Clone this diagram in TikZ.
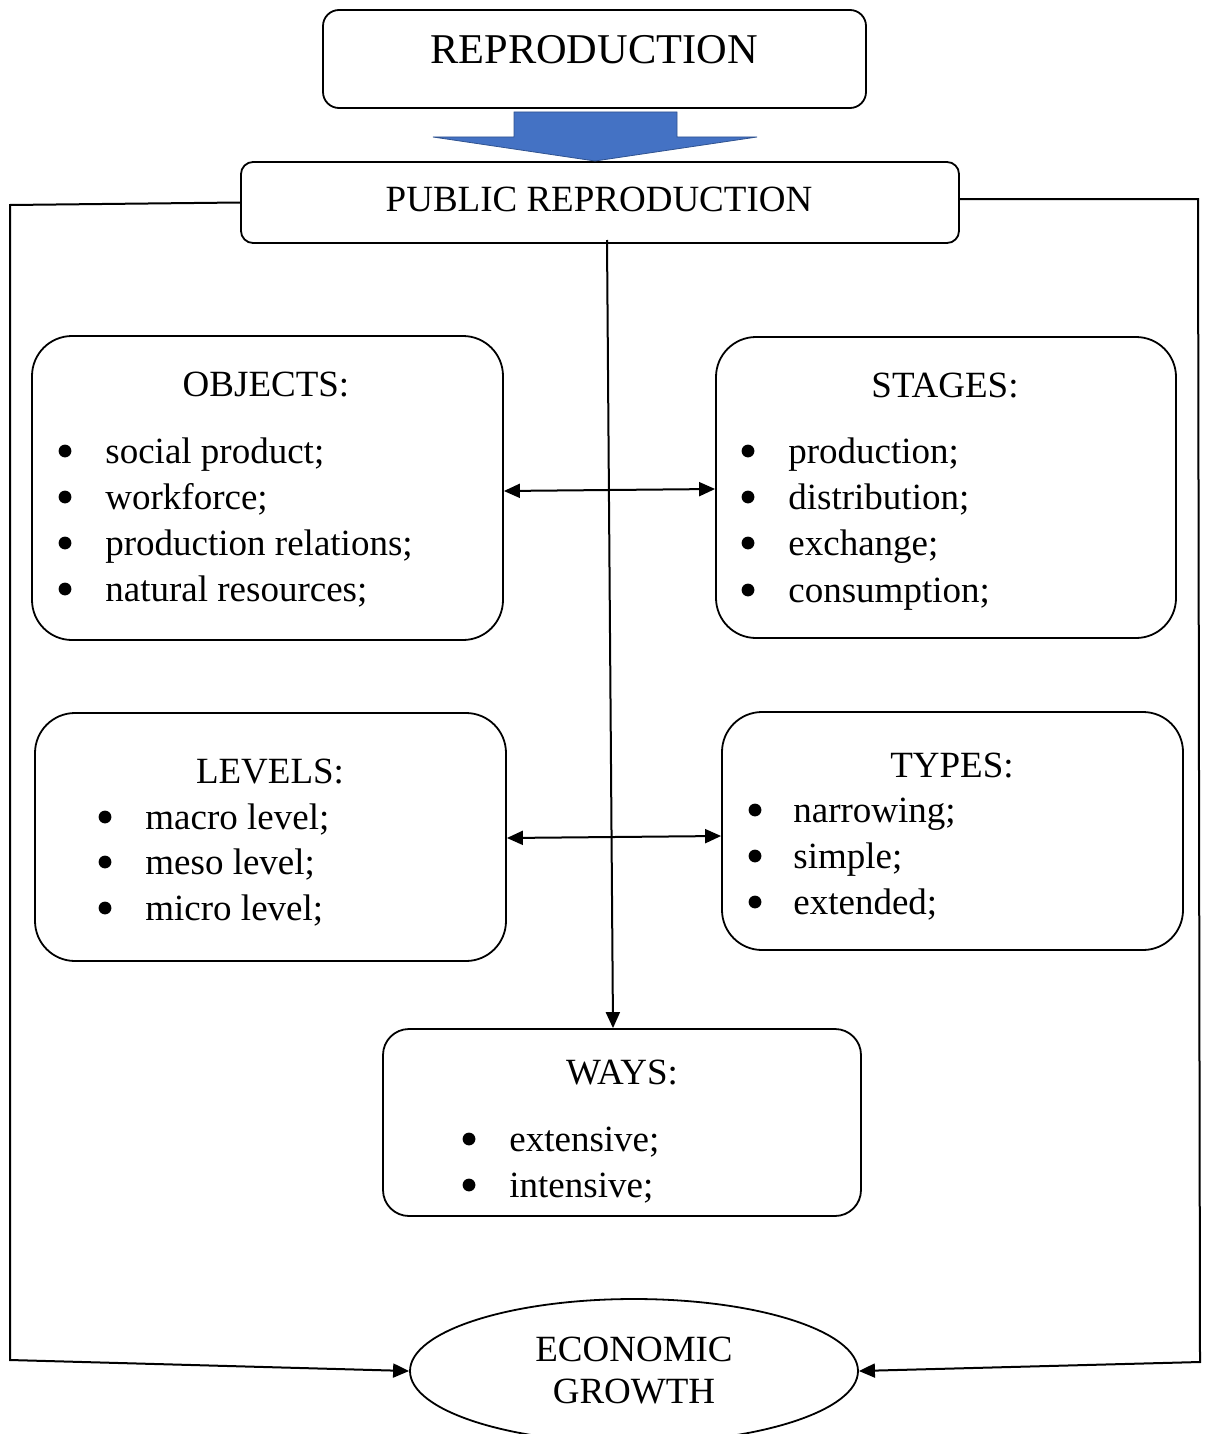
\documentclass[tikz,border=0pt]{standalone}
\usepackage{fontspec}
\setmainfont{Liberation Serif}
\usetikzlibrary{arrows.meta,shapes.geometric,calc}
\definecolor{arrowblue}{HTML}{4472C4}
\definecolor{arrowedge}{HTML}{2F528F}
\tikzset{
  box/.style={draw, line width=0.9pt, inner sep=0pt},
  ttl/.style={font=\fontsize{18.5}{22}\selectfont, inner sep=0pt, anchor=base},
  itm/.style={font=\fontsize{18.5}{22}\selectfont, inner sep=0pt, anchor=base west},
  conn/.style={line width=1pt},
  tip/.style={-{Triangle[length=8pt,width=7pt]}},
  dtip/.style={{Triangle[length=8pt,width=7pt]}-{Triangle[length=8pt,width=7pt]}},
  bul/.style={fill=black}
}
\begin{document}
\begin{tikzpicture}[x=0.5pt,y=-0.5pt]
\useasboundingbox (0,0) rectangle (1215,1434);
% boxes
\node[box, rounded corners=8pt, minimum width=271.5pt, minimum height=49pt] (rep) at (594.5,59) {};
\node[ttl, font=\fontsize{21.2}{25}\selectfont] (reptxt) at (594,64) {REPRODUCTION};
\node[box, rounded corners=6pt, minimum width=359pt, minimum height=40.5pt] (pub) at (600,202.5) {};
\node[ttl] (pubtxt) at (599,211) {PUBLIC REPRODUCTION};
% blue arrow
\filldraw[fill=arrowblue, draw=arrowedge, line width=0.4pt] (514,112) -- (677,112) -- (677,137) -- (757,137) -- (595,161) -- (433,137) -- (514,137) -- cycle;

\node[box, rounded corners=20pt, minimum width=235.5pt, minimum height=152pt] (obj) at (267.5,488) {};
\node[box, rounded corners=20pt, minimum width=230pt, minimum height=150.5pt] (stg) at (946,487.5) {};
\node[box, rounded corners=20pt, minimum width=235.5pt, minimum height=124pt] (lev) at (270.5,837) {};
\node[box, rounded corners=20pt, minimum width=230.5pt, minimum height=119pt] (typ) at (952.5,831) {};
\node[box, rounded corners=13pt, minimum width=239pt, minimum height=93.5pt] (ways) at (622,1122.5) {};
\node[draw, line width=0.9pt, ellipse, minimum width=224pt, minimum height=72pt, inner sep=0pt, align=center, font=\fontsize{18.5}{21}\selectfont] (eco) at (634,1371) {ECONOMIC\\GROWTH};

% titles
\node[ttl] (objt) at (266,396) {OBJECTS:};
\node[ttl] (stgt) at (945,397) {STAGES:};
\node[ttl] (levt) at (270,783) {LEVELS:};
\node[ttl] (typt) at (952,777) {TYPES:};
\node[ttl] (wayt) at (622,1084) {WAYS:};

% items
\foreach \y in {451,497,543,589} \fill[bul] (65,\y) circle[radius=3.2pt];
\node[itm] (o1) at (105,463) {social product;};
\node[itm] (o2) at (105,509) {workforce;};
\node[itm] (o3) at (105,555) {production relations;};
\node[itm] (o4) at (105,601) {natural resources;};
\foreach \y in {451,497,543,590} \fill[bul] (748,\y) circle[radius=3.2pt];
\node[itm] (s1) at (788,463) {production;};
\node[itm] (s2) at (788,509) {distribution;};
\node[itm] (s3) at (788,555) {exchange;};
\node[itm] (s4) at (788,602) {consumption;};
\foreach \y in {817,862,908} \fill[bul] (105,\y) circle[radius=3.2pt];
\node[itm] (l1) at (145,829) {macro level;};
\node[itm] (l2) at (145,874) {meso level;};
\node[itm] (l3) at (145,920) {micro level;};
\foreach \y in {810,856,902} \fill[bul] (755,\y) circle[radius=3.2pt];
\node[itm] (t1) at (793,822) {narrowing;};
\node[itm] (t2) at (793,868) {simple;};
\node[itm] (t3) at (793,914) {extended;};
\foreach \y in {1139,1185} \fill[bul] (469,\y) circle[radius=3.2pt];
\node[itm] (w1) at (509,1151) {extensive;};
\node[itm] (w2) at (509,1197) {intensive;};

% connectors
\coordinate (cstart) at (607,240);
\coordinate (cend) at ($(ways.north)+(-9,0)$);
\draw[conn, tip] (cstart) -- (cend);
\draw[conn, dtip] (obj.east |- 0,491) -- (stg.west |- 0,489);
\draw[conn, dtip] (lev.east |- 0,838) -- (typ.west |- 0,836);
\coordinate (lc1) at (10,205);
\coordinate (lc2) at (10,1360);
\draw[conn, tip] (pub.west) -- (lc1) -- (lc2) -- (eco.west);
\coordinate (rc1) at (1198,199);
\coordinate (rc2) at (1200,1362);
\draw[conn, tip] (pub.east |- rc1) -- (rc1) -- (rc2) -- (eco.east);
\end{tikzpicture}
\end{document}
